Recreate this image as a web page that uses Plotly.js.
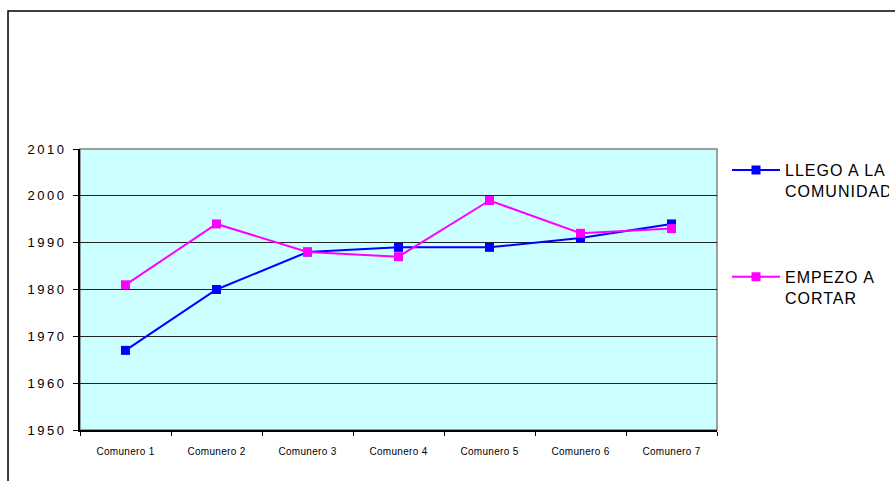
<!DOCTYPE html>
<html>
<head>
<meta charset="utf-8">
<script src="https://cdn.plot.ly/plotly-3.0.1.min.js"></script>
<style>
  html, body { margin: 0; padding: 0; background: #ffffff; }
  #chart { width: 895px; height: 481px; }
  /* wider letter spacing, as in the office-style rendering */
  #chart .ytick text { letter-spacing: 2.5px; }
  #chart .legendtext { letter-spacing: 1px; }
  #chart .xtick text { letter-spacing: 0.3px; }
</style>
</head>
<body>
<div id="chart"></div>
<script>
// Categories and yearly values per commoner
const comuneros = ["Comunero 1", "Comunero 2", "Comunero 3", "Comunero 4", "Comunero 5", "Comunero 6", "Comunero 7"];
const llegoComunidad = [1967, 1980, 1988, 1989, 1989, 1991, 1994];
const empezoCortar = [1981, 1994, 1988, 1987, 1999, 1992, 1993];
const yTicks = [1950, 1960, 1970, 1980, 1990, 2000, 2010];

const traces = [
  {
    x: comuneros, y: llegoComunidad, type: "scatter", mode: "lines+markers",
    name: "LLEGO A LA<br>COMUNIDAD",
    line: { color: "#0000FF", width: 2 },
    marker: { color: "#0000FF", symbol: "square", size: 9 },
    legendgroup: "a"
  },
  {
    x: comuneros, y: empezoCortar, type: "scatter", mode: "lines+markers",
    name: "EMPEZO A<br>CORTAR",
    line: { color: "#FF00FF", width: 2 },
    marker: { color: "#FF00FF", symbol: "square", size: 9 },
    legendgroup: "b"
  }
];

const layout = {
  width: 895, height: 481,
  margin: { l: 80, r: 178, t: 149, b: 51, autoexpand: false },
  paper_bgcolor: "#ffffff",
  plot_bgcolor: "#CCFFFF",
  font: { family: "Liberation Sans, Arial, sans-serif", color: "#000000" },
  showlegend: true,
  legend: {
    x: 1.0157, y: 0.985, xanchor: "left", yanchor: "top",
    valign: "top",
    tracegroupgap: 62,
    font: { size: 16, color: "#000000" },
    bgcolor: "rgba(0,0,0,0)",
    itemwidth: 48
  },
  xaxis: {
    type: "category",
    range: [-0.5, 6.5],
    tickson: "boundaries",
    ticks: "outside", ticklen: 4, tickcolor: "#000000",
    ticklabelstandoff: 11,
    showline: true, linecolor: "#000000", linewidth: 2,
    showgrid: false, zeroline: false,
    tickfont: { size: 10 },
    fixedrange: true
  },
  yaxis: {
    range: [1950, 2010],
    tickvals: yTicks,
    ticks: "outside", ticklen: 5, tickcolor: "#000000",
    ticklabelstandoff: 4,
    showline: true, linecolor: "#000000", linewidth: 2,
    gridcolor: "#222222", gridwidth: 1,
    zeroline: false,
    tickfont: { size: 13 },
    fixedrange: true
  },
  shapes: [
    // plot-area frame (top and right edges)
    { type: "rect", xref: "paper", yref: "paper", x0: 0, x1: 1, y0: 0, y1: 1,
      line: { color: "#808080", width: 1.5 }, layer: "below" },
    // outer chart frame
    { type: "rect", xref: "paper", yref: "paper", x0: -0.113, x1: 1.3, y0: -0.3, y1: 1.491,
      line: { color: "#000000", width: 1.5 } }
  ]
};

Plotly.newPlot("chart", traces, layout, { displayModeBar: false, staticPlot: true });
</script>
</body>
</html>
